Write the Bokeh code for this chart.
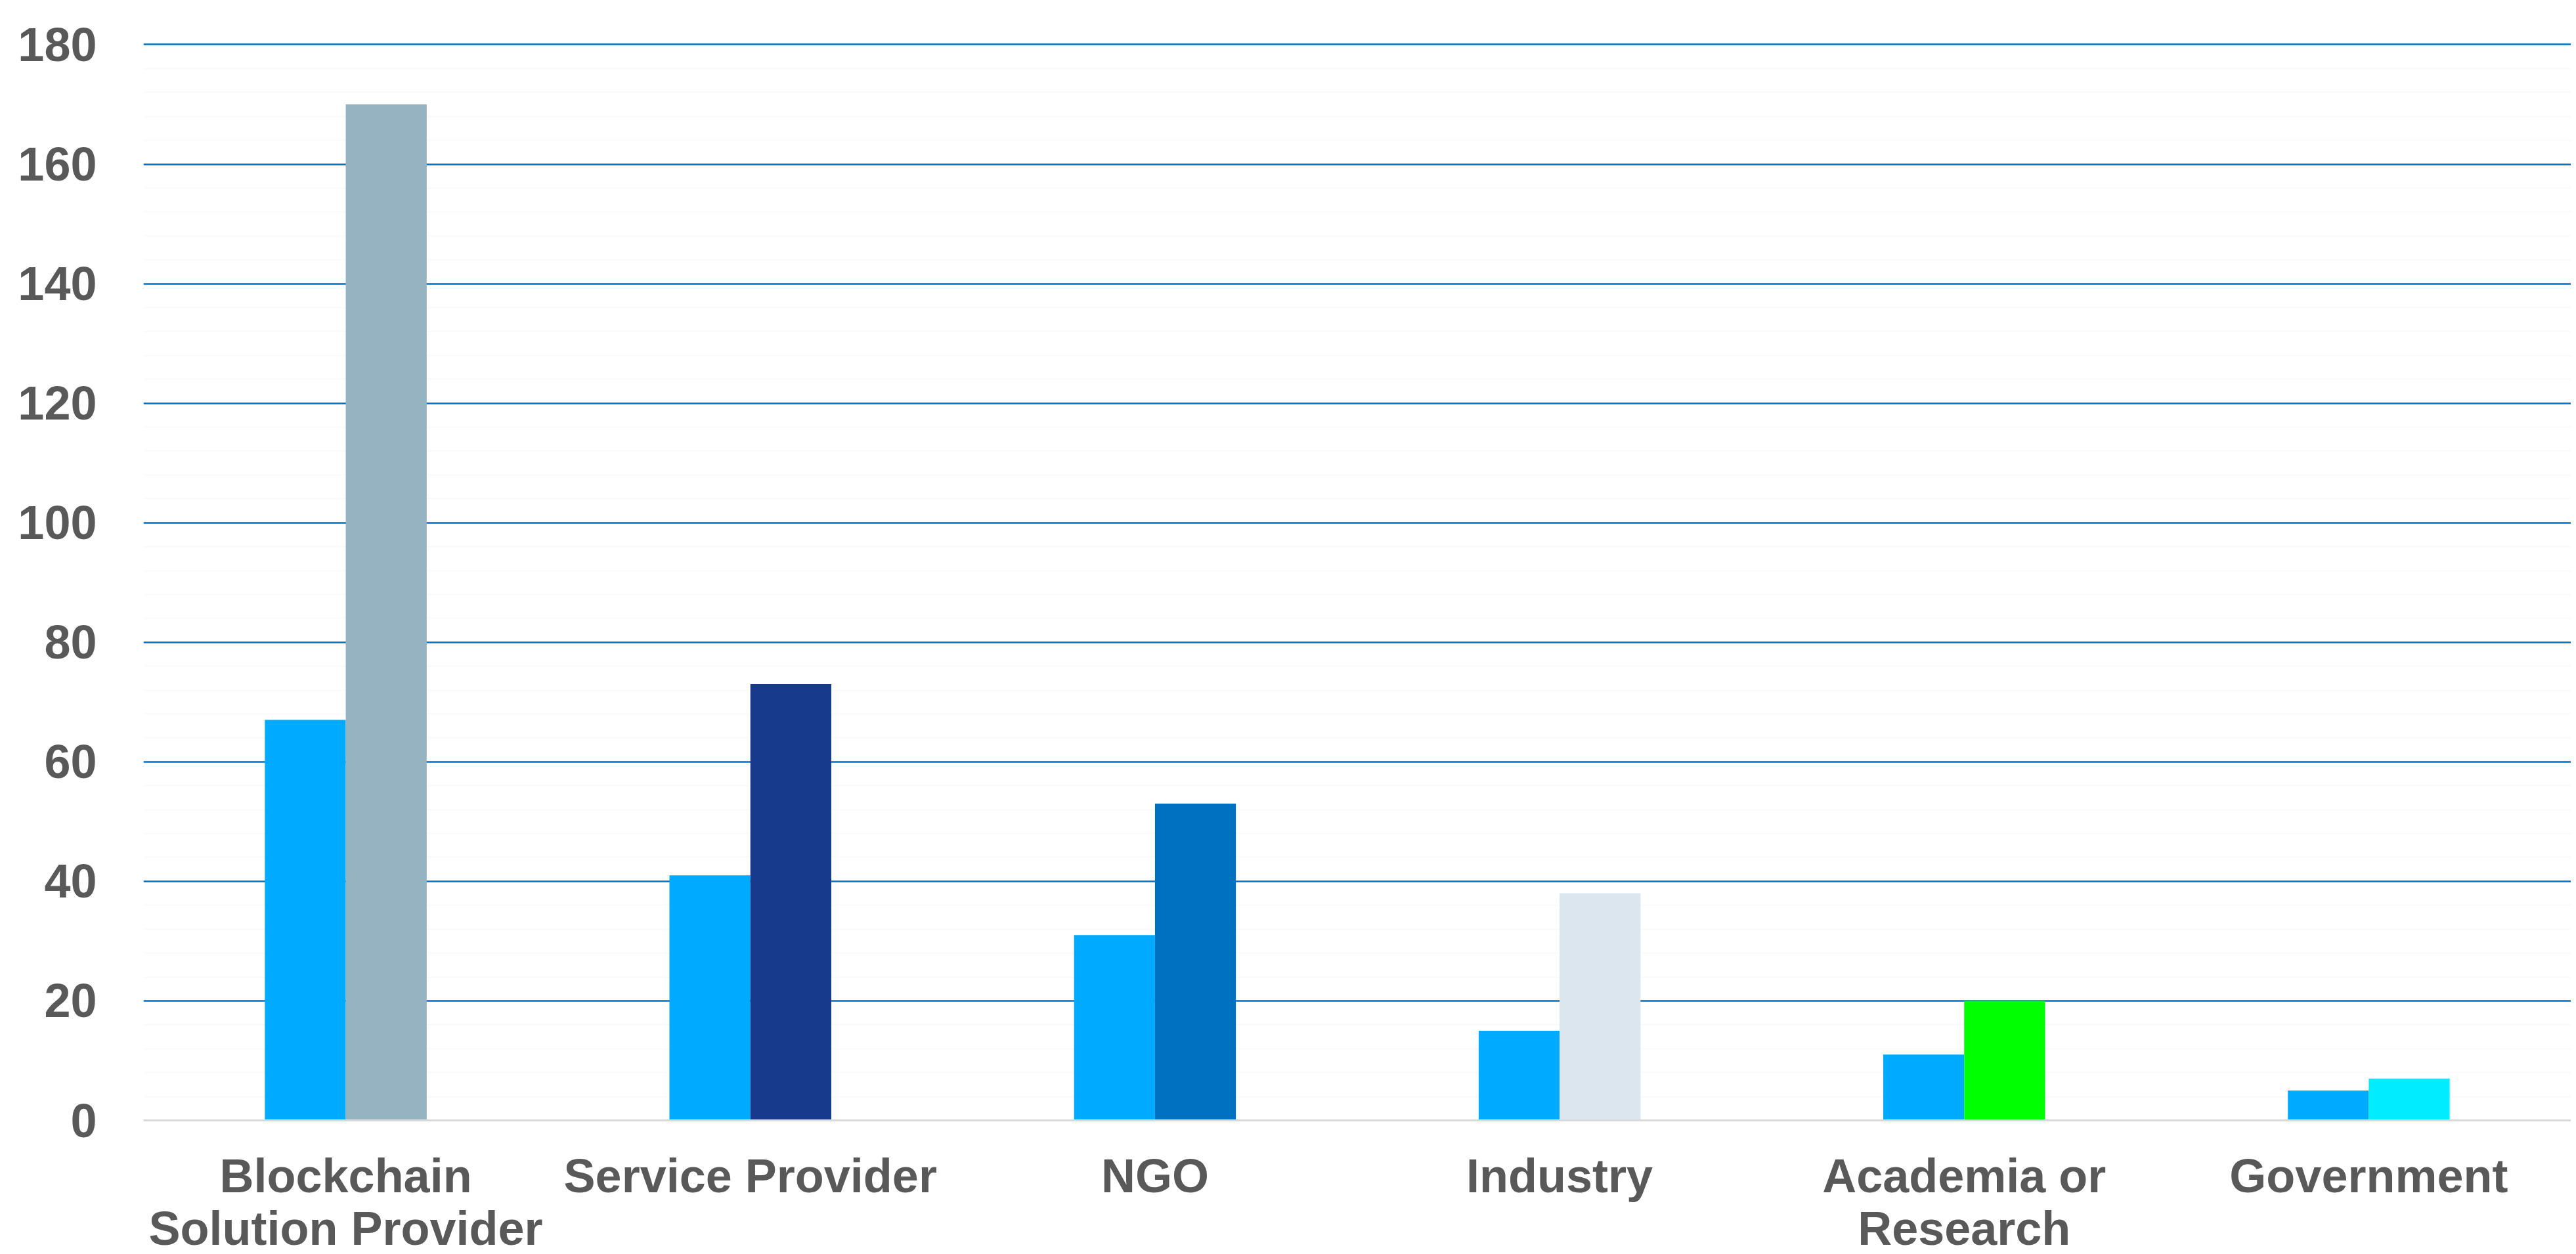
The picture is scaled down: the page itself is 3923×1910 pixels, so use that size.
from bokeh.plotting import figure
from bokeh.models import ColumnDataSource, Range1d, FactorRange, SingleIntervalTicker
from bokeh.transform import dodge
from bokeh.embed import file_html
from bokeh.resources import INLINE

categories = ["Blockchain\nSolution Provider", "Service Provider", "NGO", "Industry",
              "Academia or\nResearch", "Government"]
series_a = [67, 41, 31, 15, 11, 5]
series_b = [170, 73, 53, 38, 20, 7]
color_a = "#00AAFF"
colors_b = ["#95B3C0", "#173A8D", "#0070C0", "#DCE6EE", "#00FF00", "#00EEFF"]

src = ColumnDataSource(dict(cat=categories, a=series_a, b=series_b, cb=colors_b))

p = figure(x_range=FactorRange(*categories, range_padding=0), y_range=Range1d(0, 180.6),
           width=3915, height=1894, frame_width=3697, frame_height=1644,
           output_backend="svg", toolbar_location=None,
           min_border_left=218, min_border_right=0, min_border_top=62, min_border_bottom=150)
p.outline_line_color = None

p.vbar(x=dodge("cat", -0.1, range=p.x_range), top="a", width=0.2, source=src,
       fill_color=color_a, line_color=None)
p.vbar(x=dodge("cat", 0.1, range=p.x_range), top="b", width=0.2, source=src,
       fill_color="cb", line_color=None)

p.yaxis.ticker = SingleIntervalTicker(interval=20, num_minor_ticks=5)
p.ygrid.ticker = p.yaxis.ticker
p.ygrid.grid_line_color = "#0070C0"
p.ygrid.grid_line_width = 2.5
p.ygrid.minor_grid_line_color = "#FAFAFA"
p.ygrid.minor_grid_line_width = 2
p.xgrid.grid_line_color = None

for ax in (p.xaxis, p.yaxis):
    ax.major_label_text_font = "Liberation Sans"
    ax.major_label_text_font_style = "bold"
    ax.major_label_text_font_size = "72px"
    ax.major_label_text_color = "#595959"
    ax.major_tick_line_color = None
    ax.minor_tick_line_color = None

p.yaxis.axis_line_color = None
p.yaxis.major_label_standoff = 65
p.xaxis.axis_line_color = "#D9D9D9"
p.xaxis.axis_line_width = 3
p.xaxis.major_label_standoff = 38
p.xaxis.major_label_text_line_height = 1.0

open("out.html", "w").write(file_html(p, INLINE))
